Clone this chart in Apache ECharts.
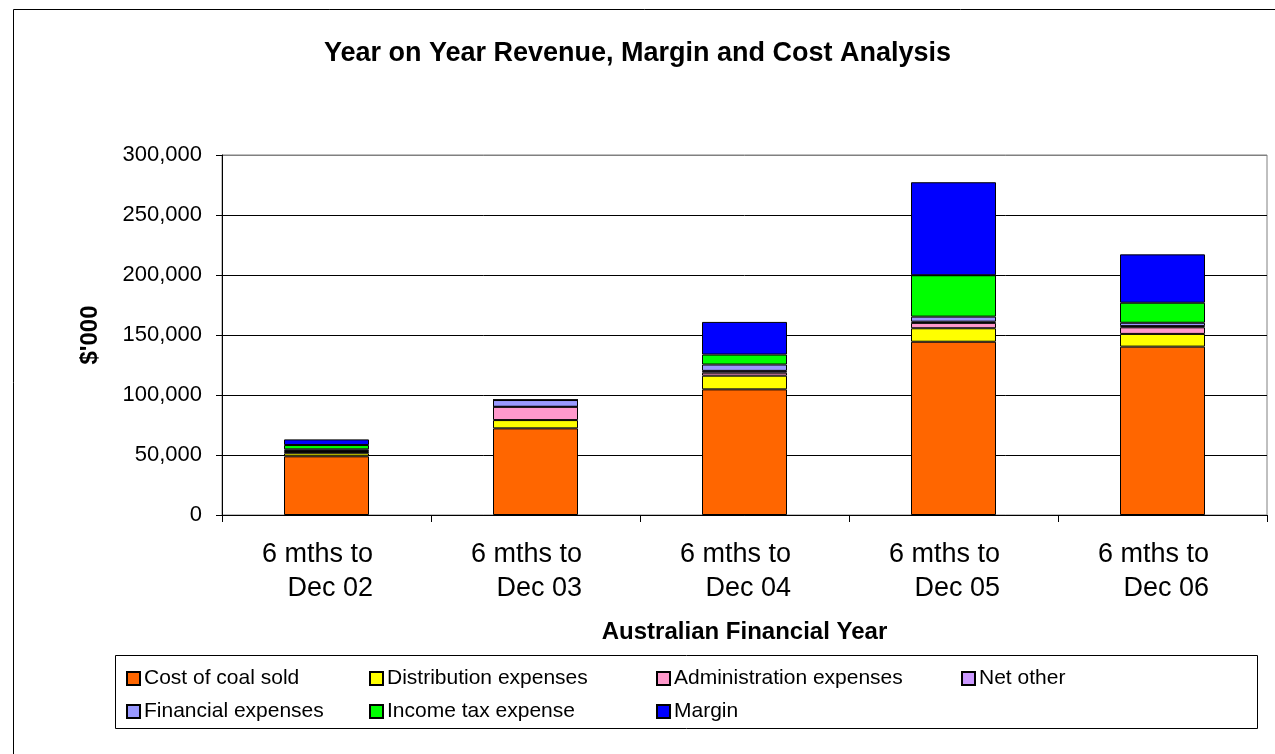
<!DOCTYPE html>
<html>
<head>
<meta charset="utf-8">
<script src="https://cdn.jsdelivr.net/npm/echarts@6/dist/echarts.min.js"></script>
<style>html,body{margin:0;padding:0;background:#fff;}#c{width:1275px;height:754px;}</style>
</head>
<body>
<div id="c"></div>
<script>
const categories = ['6 mths to\nDec 02', '6 mths to\nDec 03', '6 mths to\nDec 04', '6 mths to\nDec 05', '6 mths to\nDec 06'];
const costOfCoal = [48900, 72200, 104700, 144400, 140300];
const distribution = [2500, 6900, 11400, 11200, 10600];
const administration = [1200, 11100, 2500, 4500, 5500];
const netOther = [800, 0, 1500, 1000, 1000];
const financial = [1300, 5600, 5300, 4200, 2800];
const incomeTax = [3600, 0, 8300, 34500, 16700];
const margin = [4700, 0, 27200, 77500, 40300];
const yTicks = [0, 50000, 100000, 150000, 200000, 250000, 300000];

const seriesDefs = [
  ['Cost of coal sold', costOfCoal, '#FF6600'],
  ['Distribution expenses', distribution, '#FFFF00'],
  ['Administration expenses', administration, '#FF99CC'],
  ['Net other', netOther, '#CC99FF'],
  ['Financial expenses', financial, '#9999FF'],
  ['Income tax expense', incomeTax, '#00FF00'],
  ['Margin', margin, '#0000FF']
];
const legendPos = [[121, 663], [364, 663], [651, 663], [956, 663], [121, 696], [364, 696], [651, 696]];

const chart = echarts.init(document.getElementById('c'), null, {renderer: 'canvas'});
const font = 'Arial, "Liberation Sans", sans-serif';
chart.setOption({
  animation: false,
  backgroundColor: '#fff',
  textStyle: {fontFamily: font},
  title: {
    text: 'Year on Year Revenue, Margin and Cost Analysis',
    left: 'center', top: 35,
    textStyle: {fontFamily: font, fontSize: 27, fontWeight: 'bold', color: '#000'}
  },
  graphic: [
    {type: 'rect', z: -10, shape: {x: 13.5, y: 9.5, width: 1300, height: 800}, style: {fill: 'none', stroke: '#000', lineWidth: 1}},
    {type: 'rect', z: -10, shape: {x: 115.5, y: 655.5, width: 1142, height: 73}, style: {fill: 'none', stroke: '#000', lineWidth: 1}}
  ],
  legend: seriesDefs.map((s, i) => ({
    data: [s[0]], left: legendPos[i][0], top: legendPos[i][1],
    itemWidth: 13, itemHeight: 13, itemGap: 0, icon: 'rect',
    textStyle: {fontFamily: font, fontSize: 21, color: '#000', padding: [0, 0, 0, -1]},
    selectedMode: false
  })),
  grid: {left: 222, right: 8, top: 155, bottom: 239, show: true, borderColor: '#808080', borderWidth: 1, containLabel: false},
  xAxis: {
    type: 'category', data: categories,
    name: 'Australian Financial Year', nameLocation: 'middle', nameGap: 105,
    nameTextStyle: {fontFamily: font, fontSize: 24, fontWeight: 'bold', color: '#000'},
    axisLine: {lineStyle: {color: '#000', width: 1}},
    axisTick: {show: true, length: 7, alignWithLabel: false, lineStyle: {color: '#000'}},
    axisLabel: {
      interval: 0, margin: 23, padding: [0, 18, 0, 0],
      formatter: v => v.split('\n').map(s => '{a|' + s + '}').join('\n'),
      rich: {a: {align: 'right', fontFamily: font, fontSize: 27, lineHeight: 34, color: '#000'}}
    }
  },
  yAxis: {
    type: 'value', min: yTicks[0], max: yTicks[yTicks.length - 1], interval: yTicks[1] - yTicks[0],
    name: "$'000", nameLocation: 'middle', nameGap: 120, nameRotate: 90,
    nameTextStyle: {fontFamily: font, fontSize: 24, fontWeight: 'bold', color: '#000'},
    axisLine: {show: true, lineStyle: {color: '#000', width: 1}},
    axisTick: {show: true, length: 6, lineStyle: {color: '#000'}},
    axisLabel: {margin: 20, fontFamily: font, fontSize: 22, color: '#000',
      formatter: v => v.toLocaleString('en-US')},
    splitLine: {show: true, lineStyle: {color: ['#000', '#000', '#000', '#000', '#000', '#000', '#808080'], width: 1}}
  },
  series: seriesDefs.map(s => ({
    name: s[0], type: 'bar', stack: 'total', data: s[1], barWidth: 85,
    itemStyle: {color: s[2], borderColor: '#000', borderWidth: 1}
  }))
});
</script>
</body>
</html>
